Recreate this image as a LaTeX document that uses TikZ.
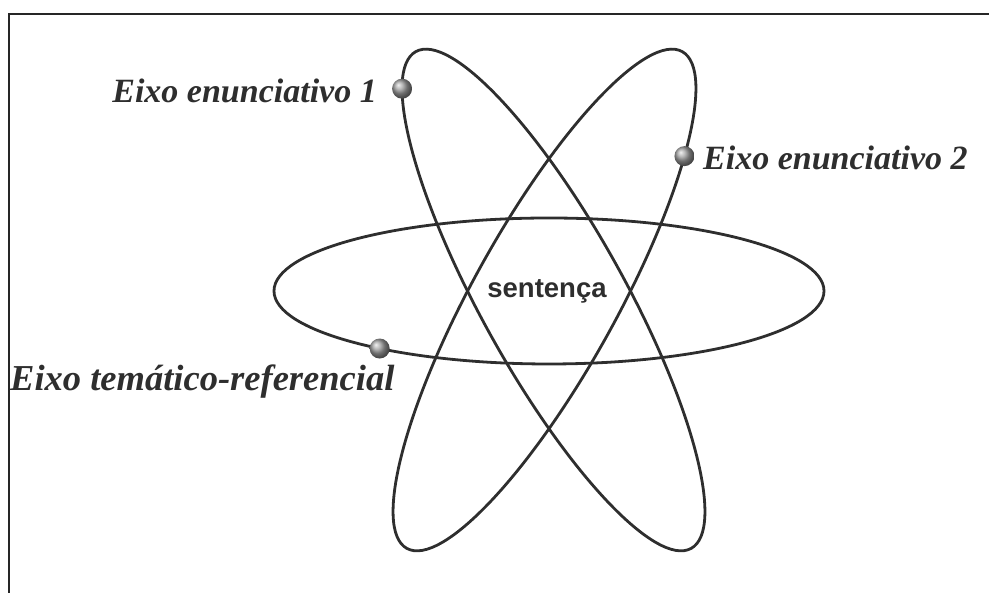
\documentclass[tikz,border=0pt]{standalone}
\usepackage{fontspec}
\setmainfont{Liberation Serif}
\newfontfamily\sentfont{Liberation Sans}
\begin{document}
\begin{tikzpicture}[x=1pt,y=1pt,
  orbit/.style={draw=black!82,line width=2.8pt},
  ballnode/.style={circle,inner sep=0pt,minimum size=20pt,shading=ball,ball color=gray!75},
  axislabel/.style={inner sep=0pt,text=black!82,font=\fontsize{34}{40}\selectfont\bfseries\itshape},
  frameline/.style={draw=black!85,line width=1.8pt}]
\useasboundingbox (0,0) rectangle (989,593);
% frame
\coordinate (fbl) at (9,0);
\coordinate (ftl) at (9,579);
\coordinate (ftr) at (989,579);
\draw[frameline] (fbl) -- (ftl) -- (ftr);
% orbits
\draw[orbit] (549,302) ellipse [x radius=275, y radius=73];
\begin{scope}[shift={(553.5,293)},rotate=-61]
  \draw[orbit] (0,0) ellipse [x radius=284, y radius=72];
  \coordinate (p1) at ({284*cos(204.6)},{72*sin(204.6)});
\end{scope}
\begin{scope}[shift={(544.5,293)},rotate=61]
  \draw[orbit] (0,0) ellipse [x radius=284, y radius=72];
  \coordinate (p2) at ({284*cos(-47)},{72*sin(-47)});
\end{scope}
\coordinate (p3) at ({549+275*cos(232)},{302+73*sin(232)});
% balls
\node[ballnode] (b1) at (p1) {};
\node[ballnode] (b2) at (p2) {};
\node[ballnode] (b3) at (p3) {};
% labels
\node[axislabel,anchor=base east] (l1) at (377,490) {Eixo enunciativo 1};
\node[axislabel,anchor=base west] (l2) at (703,423) {Eixo enunciativo 2};
\node[axislabel,anchor=base west,font=\fontsize{36.5}{42}\selectfont\bfseries\itshape] (l3) at (10,202) {Eixo temático-referencial};
\node[inner sep=0pt,anchor=base,text=black!82,font=\sentfont\fontsize{27.5}{32}\selectfont\bfseries] (s) at (547,295) {sentença};
\end{tikzpicture}
\end{document}
